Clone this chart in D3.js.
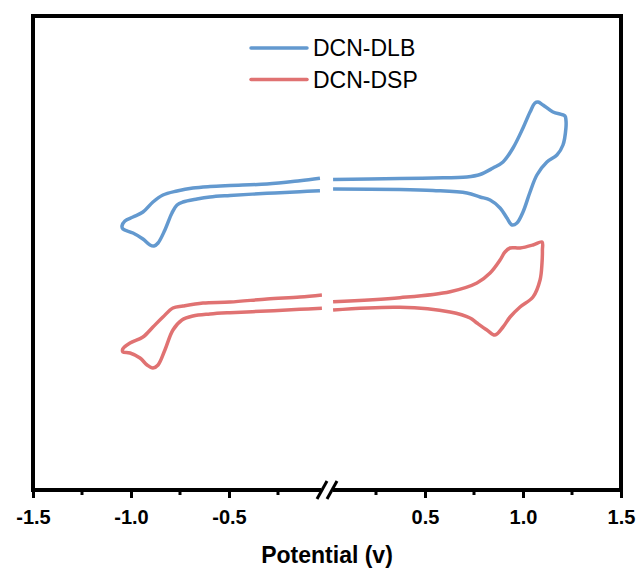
<!DOCTYPE html>
<html>
<head>
<meta charset="utf-8">
<script src="https://cdn.jsdelivr.net/npm/d3@7.9.0/dist/d3.min.js"></script>
<style>
  body { margin: 0; background: #fff; }
  text { font-family: "Liberation Sans", Arial, sans-serif; }
</style>
</head>
<body>
<svg id="chart" width="643" height="574"></svg>
<script>
// potential (V) and current (arb. units), each loop split at the axis break
const dlbLeft = [
  [-0.036, 7.17], [-0.138, 6.93], [-0.306, 6.60], [-0.495, 6.45], [-0.597, 6.35],
  [-0.684, 6.20], [-0.765, 5.90], [-0.837, 5.50], [-0.888, 4.80], [-0.939, 3.80],
  [-0.990, 3.30], [-1.031, 2.90], [-1.046, 2.40], [-1.041, 2.10], [-0.990, 1.70],
  [-0.939, 1.10], [-0.903, 0.50], [-0.883, 0.40], [-0.862, 0.70], [-0.827, 2.00],
  [-0.791, 3.70], [-0.765, 4.50], [-0.735, 4.80], [-0.663, 5.10], [-0.597, 5.30],
  [-0.495, 5.45], [-0.306, 5.67], [-0.138, 5.83], [-0.036, 5.93]
];
const dlbRight = [
  [0.031, 7.05], [0.372, 7.15], [0.541, 7.20], [0.714, 7.30], [0.781, 7.55],
  [0.847, 8.20], [0.898, 8.80], [0.949, 10.20], [1.000, 12.20], [1.036, 13.80],
  [1.061, 14.70], [1.077, 14.80], [1.102, 14.50], [1.153, 13.80], [1.214, 13.40],
  [1.219, 13.00], [1.219, 12.20], [1.204, 10.50], [1.173, 9.50], [1.122, 8.80],
  [1.071, 7.50], [1.036, 5.80], [1.000, 3.80], [0.969, 2.70], [0.944, 2.50],
  [0.918, 3.20], [0.883, 4.20], [0.832, 5.00], [0.781, 5.30], [0.714, 5.70],
  [0.541, 5.95], [0.372, 6.05], [0.031, 6.10]
];
const dspLeft = [
  [-0.026, -4.50], [-0.138, -4.70], [-0.306, -4.90], [-0.495, -5.20], [-0.633, -5.30],
  [-0.735, -5.60], [-0.786, -5.80], [-0.837, -6.70], [-0.888, -7.70], [-0.939, -8.70],
  [-1.005, -9.30], [-1.042, -9.90], [-1.041, -10.20], [-1.005, -10.30], [-0.954, -10.80],
  [-0.918, -11.50], [-0.888, -11.80], [-0.862, -11.50], [-0.827, -10.00], [-0.786, -8.00],
  [-0.740, -7.00], [-0.684, -6.60], [-0.597, -6.40], [-0.495, -6.27], [-0.306, -6.10],
  [-0.138, -5.93], [-0.026, -5.83]
];
const dspRight = [
  [0.031, -5.17], [0.372, -4.77], [0.628, -4.17], [0.765, -3.30], [0.832, -2.30],
  [0.883, -1.00], [0.908, -0.20], [0.934, 0.20], [0.985, 0.20], [1.051, 0.50],
  [1.097, 0.80], [1.099, 0.00], [1.097, -1.30], [1.087, -3.00], [1.051, -4.70],
  [0.985, -5.70], [0.934, -6.70], [0.898, -7.70], [0.857, -8.50], [0.816, -8.00],
  [0.765, -7.30], [0.730, -6.80], [0.628, -6.20], [0.372, -5.73], [0.031, -6.00]
];

const seriesNames = ['DCN-DLB', 'DCN-DSP'];
const seriesColors = ['#6399cf', '#e07272'];
const majorTicks = [-1.5, -1.0, -0.5, 0.5, 1.0, 1.5];
const minorTicks = [-1.25, -0.75, -0.25, 0.25, 0.75, 1.25];

const svg = d3.select('#chart');
const mLeft = 33, mRight = 621, mTop = 16, mBottom = 490;

const x = d3.scaleLinear().domain([-1.5, 1.5]).range([mLeft, mRight]);
const y = d3.scaleLinear().domain([-24, 23.4]).range([mBottom, mTop]);

const line = d3.line()
  .x(d => x(d[0]))
  .y(d => y(d[1]))
  .curve(d3.curveCatmullRom.alpha(0.5));

const curves = [
  { data: dlbLeft, s: 0 }, { data: dlbRight, s: 0 },
  { data: dspLeft, s: 1 }, { data: dspRight, s: 1 }
];

svg.selectAll('path.cv')
  .data(curves)
  .join('path')
    .attr('class', 'cv')
    .attr('d', d => line(d.data))
    .attr('fill', 'none')
    .attr('stroke', d => seriesColors[d.s])
    .attr('stroke-width', 3.5)
    .attr('stroke-linejoin', 'round')
    .attr('stroke-linecap', 'butt');

// frame
svg.append('rect')
  .attr('x', mLeft).attr('y', mTop)
  .attr('width', mRight - mLeft).attr('height', mBottom - mTop)
  .attr('fill', 'none')
  .attr('stroke', '#000')
  .attr('stroke-width', 4);

// x axis ticks
const xAxis = d3.axisBottom(x)
  .tickValues(majorTicks)
  .tickSize(8)
  .tickPadding(8)
  .tickFormat(d => d.toFixed(1));

const gx = svg.append('g')
  .attr('transform', `translate(0,${mBottom})`)
  .call(xAxis);
gx.select('.domain').remove();
gx.selectAll('.tick line').attr('stroke', '#000').attr('stroke-width', 3);
gx.selectAll('.tick text')
  .attr('fill', '#000')
  .style('font-size', '20px')
  .style('font-weight', 'bold')
  .attr('dy', '0.9em');

svg.append('g')
  .selectAll('line')
  .data(minorTicks)
  .join('line')
    .attr('x1', d => x(d)).attr('x2', d => x(d))
    .attr('y1', mBottom).attr('y2', mBottom + 5)
    .attr('stroke', '#000')
    .attr('stroke-width', 3);

// axis break
const bx = x(0);
svg.append('rect')
  .attr('x', bx - 6).attr('y', mBottom - 4)
  .attr('width', 12).attr('height', 8)
  .attr('fill', '#fff');
[-5, 5].forEach(off => {
  svg.append('line')
    .attr('x1', bx + off - 5).attr('y1', mBottom + 9)
    .attr('x2', bx + off + 5).attr('y2', mBottom - 9)
    .attr('stroke', '#000')
    .attr('stroke-width', 3);
});

// axis title
svg.append('text')
  .attr('x', bx)
  .attr('y', 563)
  .attr('text-anchor', 'middle')
  .style('font-size', '23px')
  .style('font-weight', 'bold')
  .text('Potential (v)');

// legend
const legend = svg.append('g');
seriesNames.forEach((name, i) => {
  const ly = 48 + i * 31.5;
  legend.append('line')
    .attr('x1', 251).attr('x2', 307)
    .attr('y1', ly).attr('y2', ly)
    .attr('stroke', seriesColors[i])
    .attr('stroke-width', 3.5)
    .attr('stroke-linecap', 'round');
  legend.append('text')
    .attr('x', 313)
    .attr('y', ly + 8)
    .style('font-size', '23px')
    .text(name);
});
</script>
</body>
</html>
